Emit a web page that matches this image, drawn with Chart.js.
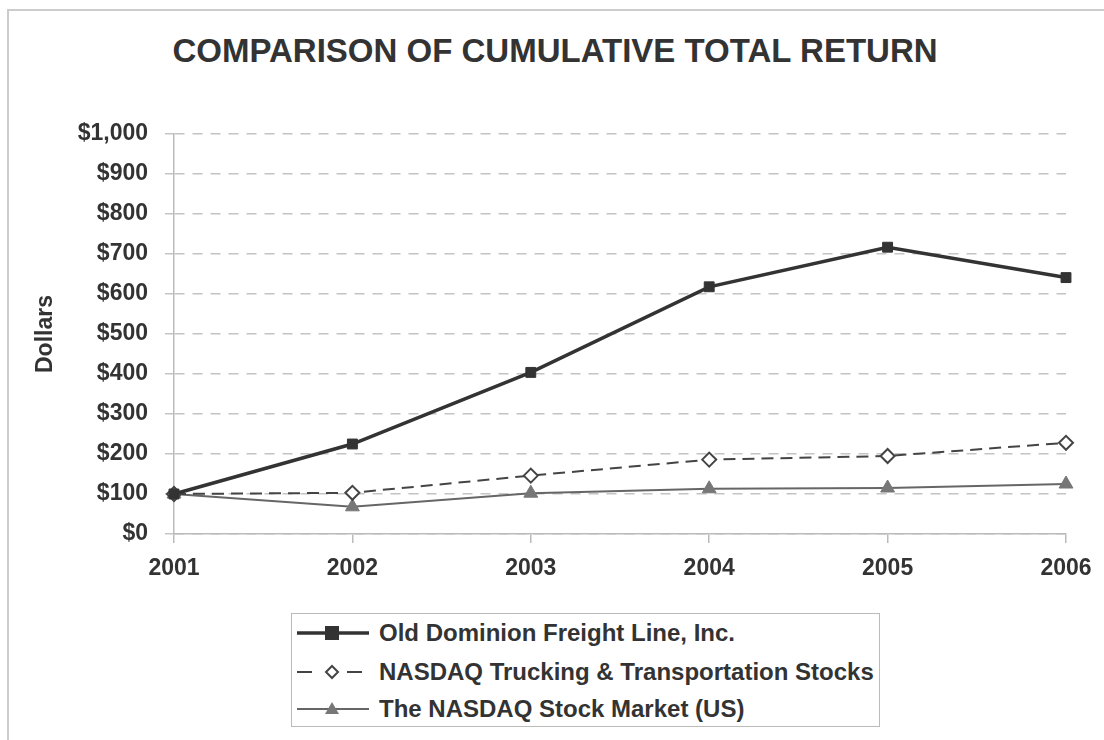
<!DOCTYPE html>
<html>
<head>
<meta charset="utf-8">
<script src="https://cdn.jsdelivr.net/npm/chart.js@4.4.0/dist/chart.umd.min.js"></script>
<style>
    html, body { margin: 0; padding: 0; background: #fff; }
    body { width: 1104px; height: 740px; position: relative; overflow: hidden;
           font-family: "Liberation Sans", Arial, Helvetica, sans-serif; color: #333; }
    .frame { position: absolute; left: 7px; top: 9px; right: -10px; bottom: -10px;
             border-top: 2px solid #ccc; border-left: 2px solid #ccc; }
    .title { position: absolute; left: 0; width: 1110px; top: 32px; text-align: center;
             font-size: 33px; font-weight: bold; color: #333; }
    #wrap { position: absolute; left: 0; top: 0; width: 1104px; height: 740px; }
    .legend { position: absolute; left: 291px; top: 613px; width: 587px; height: 112px;
              border: 1px solid #bbb; background: #fff; }
    .row { position: absolute; left: 5px; height: 30px; display: flex; align-items: center; }
    .row svg { width: 72px; height: 30px; margin-right: 10px; }
    .row span { font-size: 24px; font-weight: bold; color: #333; }
</style>
</head>
<body>
<div class="frame"></div>
<div class="title">COMPARISON OF CUMULATIVE TOTAL RETURN</div>
<div id="wrap"><canvas id="chart" width="1104" height="740"></canvas></div>
<div class="legend">
    <div class="row" style="top:4px">
        <svg viewBox="0 0 72 30"><line x1="0" y1="15" x2="72" y2="15" stroke="#333" stroke-width="3.5"/><rect x="28" y="8" width="14" height="14" fill="#333"/></svg>
        <span id="lg0"></span>
    </div>
    <div class="row" style="top:43px">
        <svg viewBox="0 0 72 30"><line x1="0" y1="15" x2="15" y2="15" stroke="#444" stroke-width="2"/><line x1="50" y1="15" x2="65" y2="15" stroke="#444" stroke-width="2"/><polygon points="35,9 41,15 35,21 29,15" fill="#fff" stroke="#444" stroke-width="2"/></svg>
        <span id="lg1"></span>
    </div>
    <div class="row" style="top:80px">
        <svg viewBox="0 0 72 30"><line x1="0" y1="15" x2="72" y2="15" stroke="#666" stroke-width="2"/><polygon points="35,8 42,20 28,20" fill="#777"/></svg>
        <span id="lg2"></span>
    </div>
</div>
<script>
// Data
const years = ['2001', '2002', '2003', '2004', '2005', '2006'];
const seriesNames = [
    'Old Dominion Freight Line, Inc.',
    'NASDAQ Trucking & Transportation Stocks',
    'The NASDAQ Stock Market (US)'
];
const oldDominion = [100, 225, 404, 618, 717, 641];
const nasdaqTrucking = [100, 103, 146, 186, 195, 228];
const nasdaqMarket = [100, 68, 102, 113, 115, 125];
const yTicks = [0, 100, 200, 300, 400, 500, 600, 700, 800, 900, 1000];

seriesNames.forEach((n, i) => { document.getElementById('lg' + i).textContent = n; });

const font = { family: '"Liberation Sans", Arial, Helvetica, sans-serif', size: 23, weight: 'bold' };

new Chart(document.getElementById('chart'), {
    type: 'line',
    data: {
        labels: years,
        datasets: [
            {
                label: seriesNames[0],
                data: oldDominion,
                borderColor: '#333',
                borderWidth: 3.5,
                pointStyle: 'rect',
                pointRadius: 7,
                pointBackgroundColor: '#333',
                pointBorderColor: '#333',
                pointBorderWidth: 1,
                tension: 0
            },
            {
                label: seriesNames[1],
                data: nasdaqTrucking,
                borderColor: '#444',
                borderWidth: 2,
                borderDash: [12, 7],
                pointStyle: 'rectRot',
                pointRadius: 7,
                pointBackgroundColor: '#fff',
                pointBorderColor: '#444',
                pointBorderWidth: 2,
                tension: 0
            },
            {
                label: seriesNames[2],
                data: nasdaqMarket,
                borderColor: '#666',
                borderWidth: 2,
                pointStyle: 'triangle',
                pointRadius: 8,
                pointBackgroundColor: '#777',
                pointBorderColor: '#777',
                pointBorderWidth: 1,
                tension: 0
            }
        ]
    },
    options: {
        responsive: false,
        animation: false,
        layout: { padding: { left: 20, right: 38, top: 134, bottom: 156 } },
        plugins: { legend: { display: false }, tooltip: { enabled: false }, title: { display: false } },
        scales: {
            x: {
                offset: false,
                grid: { drawOnChartArea: false, drawTicks: true, tickLength: 9, color: '#bbb', lineWidth: 1.5 },
                border: { display: true, color: '#bbb', width: 1.5 },
                ticks: { color: '#333', font: font, padding: 12, maxRotation: 0 },
                afterFit: s => { s.height = 50; }
            },
            y: {
                min: 0,
                max: 1000,
                afterBuildTicks: s => { s.ticks = yTicks.map(v => ({ value: v })); },
                grid: { color: '#c4c4c4', lineWidth: 1.5, tickBorderDash: [], tickLength: 9 },
                border: { display: true, color: '#bbb', width: 1.5, dash: [10, 8] },
                ticks: {
                    color: '#333', font: font, padding: 17,
                    callback: v => '$' + v.toLocaleString('en-US')
                },
                title: { display: true, text: 'Dollars', color: '#333', font: font, padding: { top: 12, bottom: 0 } },
                afterFit: s => { s.width = 154; }
            }
        }
    }
});
</script>
</body>
</html>
